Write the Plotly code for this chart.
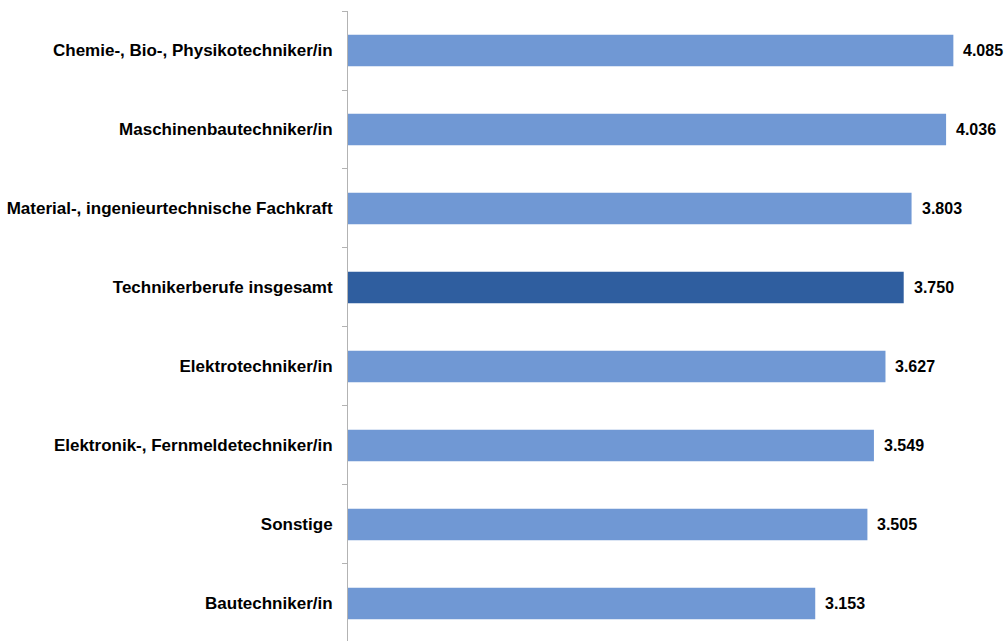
import plotly.graph_objects as go

categories = [
    "Chemie-, Bio-, Physikotechniker/in",
    "Maschinenbautechniker/in",
    "Material-, ingenieurtechnische Fachkraft",
    "Technikerberufe insgesamt",
    "Elektrotechniker/in",
    "Elektronik-, Fernmeldetechniker/in",
    "Sonstige",
    "Bautechniker/in",
]
values = [4085, 4036, 3803, 3750, 3627, 3549, 3505, 3153]
highlight = "Technikerberufe insgesamt"

light = "#7098D4"
dark = "#2F5E9F"
colors = [dark if c == highlight else light for c in categories]
labels = [f"{v:,}".replace(",", ".") for v in values]

fig = go.Figure(
    go.Bar(
        x=values,
        y=categories,
        orientation="h",
        width=0.4,
        marker=dict(color=colors, line=dict(width=0)),
        hoverinfo="skip",
    )
)

for c, v, t in zip(categories, values, labels):
    fig.add_annotation(
        x=v, y=c, text=t, showarrow=False, xanchor="left", yanchor="middle",
        xshift=8,
        font=dict(family="Liberation Sans, Arial", size=16, color="#000000", weight="bold"),
    )

fig.update_layout(
    width=1007,
    height=641,
    margin=dict(l=348, r=0, t=11, b=0, pad=0),
    plot_bgcolor="white",
    paper_bgcolor="white",
    showlegend=False,
    font=dict(family="Liberation Sans, Arial", size=16, color="#000000"),
)
fig.update_xaxes(
    range=[0, 4447],
    showgrid=False,
    showticklabels=False,
    zeroline=False,
    showline=False,
    ticks="",
)
fig.update_yaxes(
    type="category",
    categoryorder="array",
    categoryarray=categories,
    range=[7.475, -0.5],
    showgrid=False,
    showline=True,
    linecolor="#B3B3B3",
    linewidth=1,
    ticks="outside",
    ticklen=5,
    tickcolor="#B3B3B3",
    tickson="boundaries",
    ticklabelstandoff=11,
    tickfont=dict(family="Liberation Sans, Arial", size=17, color="#000000", weight="bold"),
)

fig.write_html(
    "out.html",
    config={"displayModeBar": False},
    post_script="document.body.style.margin='0';document.body.style.overflow='hidden';",
)
